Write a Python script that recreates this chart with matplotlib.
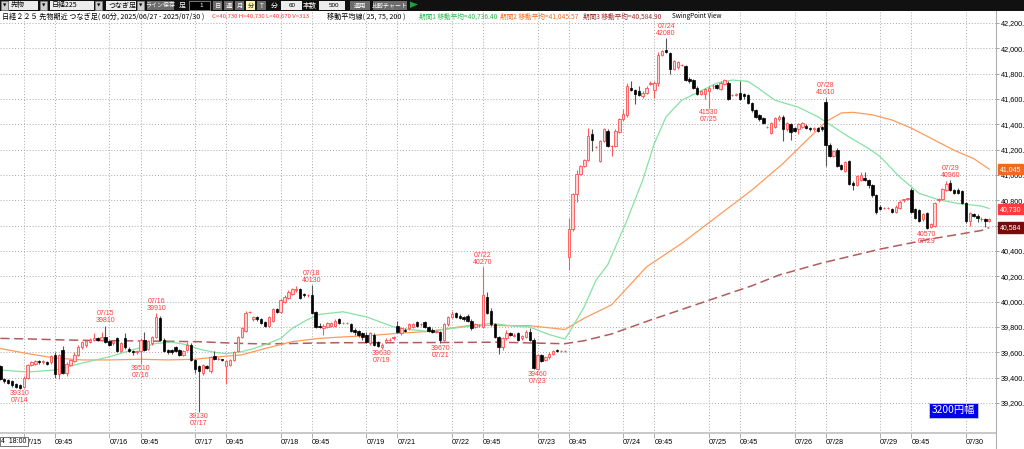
import matplotlib
matplotlib.use("Agg")
import matplotlib.pyplot as plt
from matplotlib.patches import Rectangle, Polygon
import numpy as np

W, H = 1024, 449
JP = ["Noto Sans CJK JP", "DejaVu Sans"]
NUM = "Liberation Sans"

# ---------------- data (60 min bars, bar -6 = 07/14 18:00) ----------------
first_bar = -6
opens = [
    39490, 39390, 39380, 39370, 39350, 39340,
    39330, 39400, 39500, 39510, 39530, 39520, 39520, 39520, 39580, 39430, 39620, 39440, 39500, 39530, 39580, 39640, 39660, 39680, 39700, 39710, 39700, 39720,
    39690, 39670, 39710, 39610, 39710, 39630, 39610, 39600, 39610, 39700, 39630, 39670, 39720, 39870, 39700, 39620, 39620, 39640, 39620, 39580, 39620, 39660,
    39540, 39490, 39440, 39490, 39450, 39570, 39550, 39550, 39490, 39500, 39540, 39610, 39720, 39770, 39920, 39860, 39880, 39860, 39840, 39810, 39850, 39940,
    39920, 40000, 40030, 40060, 40090, 40100, 40060, 40050, 40050, 39920, 39810, 39790, 39800, 39810, 39810, 39860, 39830, 39830, 39820, 39780, 39770, 39750,
    39740, 39670, 39740, 39680, 39640, 39680, 39700, 39710, 39810, 39750, 39780, 39790, 39800, 39840, 39820, 39840, 39800, 39780, 39760, 39760, 39700, 39820,
    39880, 39910, 39890, 39880, 39890, 39850, 39800, 39810, 39800, 40040, 39930, 39820, 39720, 39640, 39710, 39750, 39730, 39750, 39710, 39720, 39760, 39700,
    39470, 39580, 39540, 39560, 39590, 39620, 39610, 39610, 40350, 40570, 40850, 41010, 41070, 41120, 41320, 41220, 41110, 41270, 41350, 41230, 41230, 41340,
    41440, 41470, 41690, 41670, 41660, 41620, 41650, 41720, 41670, 41730, 41950, 41990, 41960, 41840, 41850, 41870, 41860, 41760, 41750, 41690, 41640, 41640,
    41660, 41700, 41710, 41680, 41720, 41730, 41630, 41630, 41650, 41640, 41630, 41570, 41510, 41470, 41450, 41380, 41330, 41380, 41440, 41460, 41360, 41400,
    41370, 41360, 41380, 41390, 41370, 41360, 41370, 41380, 41580, 41240, 41150, 41200, 41080, 41030, 41110, 40940, 40920, 40960, 40980, 40960, 40920, 40840,
    40750, 40740, 40740, 40730, 40710, 40740, 40800, 40810, 40880, 40730, 40720, 40650, 40700, 40590, 40600, 40800, 40810, 40880, 40940, 40880, 40880, 40870,
    40780, 40640, 40690, 40680, 40650, 40650, 40640,
]
highs = [
    39500, 39400, 39390, 39380, 39360, 39350,
    39410, 39510, 39530, 39540, 39540, 39540, 39530, 39580, 39600, 39590, 39650, 39520, 39550, 39600, 39660, 39690, 39700, 39710, 39750, 39720, 39760, 39810,
    39700, 39700, 39720, 39680, 39750, 39640, 39620, 39620, 39710, 39760, 39700, 39730, 39910, 39890, 39710, 39630, 39630, 39650, 39630, 39620, 39680, 39670,
    39550, 39500, 39510, 39500, 39570, 39610, 39560, 39550, 39540, 39550, 39610, 39730, 39800, 39930, 39930, 39890, 39890, 39870, 39850, 39890, 39950, 39950,
    40020, 40050, 40090, 40110, 40120, 40110, 40070, 40060, 40130, 39930, 39830, 39820, 39840, 39840, 39860, 39870, 39840, 39840, 39830, 39790, 39780, 39760,
    39760, 39760, 39750, 39690, 39670, 39710, 39710, 39730, 39850, 39800, 39790, 39830, 39830, 39850, 39830, 39850, 39810, 39790, 39780, 39770, 39830, 39890,
    39930, 39920, 39900, 39890, 39900, 39860, 39830, 39820, 40270, 40080, 39950, 39830, 39730, 39720, 39780, 39760, 39750, 39760, 39740, 39780, 39790, 39710,
    39590, 39590, 39570, 39600, 39620, 39630, 39620, 39620, 40660, 40860, 41040, 41080, 41130, 41370, 41360, 41230, 41280, 41370, 41360, 41240, 41360, 41450,
    41520, 41730, 41740, 41680, 41700, 41660, 41700, 41740, 41740, 41970, 41990, 42080, 41970, 41910, 41900, 41880, 41870, 41770, 41760, 41700, 41670, 41690,
    41700, 41720, 41720, 41740, 41760, 41740, 41640, 41650, 41740, 41650, 41640, 41580, 41520, 41480, 41460, 41390, 41420, 41460, 41470, 41470, 41420, 41410,
    41380, 41410, 41420, 41400, 41380, 41380, 41380, 41390, 41610, 41250, 41200, 41210, 41090, 41110, 41120, 40950, 41000, 41020, 41020, 40970, 40930, 40850,
    40760, 40750, 40750, 40740, 40760, 40800, 40810, 40820, 40900, 40740, 40730, 40700, 40710, 40620, 40790, 40820, 40900, 40950, 40960, 40890, 40900, 40880,
    40790, 40710, 40700, 40690, 40670, 40660, 40660,
]
lows = [
    39380, 39360, 39350, 39330, 39320, 39310,
    39320, 39390, 39490, 39500, 39510, 39510, 39500, 39510, 39400, 39390, 39430, 39410, 39490, 39520, 39570, 39630, 39640, 39670, 39690, 39690, 39690, 39670,
    39650, 39660, 39600, 39600, 39630, 39600, 39580, 39590, 39510, 39610, 39620, 39660, 39710, 39690, 39600, 39590, 39590, 39600, 39570, 39570, 39610, 39530,
    39440, 39130, 39420, 39470, 39440, 39540, 39540, 39530, 39350, 39490, 39530, 39600, 39710, 39760, 39910, 39850, 39850, 39820, 39800, 39800, 39840, 39910,
    39910, 39990, 40020, 40050, 40080, 40020, 40040, 40040, 39900, 39790, 39790, 39740, 39790, 39800, 39800, 39820, 39820, 39820, 39760, 39740, 39720, 39700,
    39670, 39660, 39650, 39640, 39630, 39670, 39690, 39700, 39750, 39740, 39760, 39780, 39790, 39800, 39810, 39790, 39760, 39750, 39750, 39670, 39690, 39810,
    39870, 39870, 39860, 39850, 39840, 39780, 39790, 39800, 39790, 39900, 39810, 39710, 39590, 39620, 39700, 39730, 39720, 39690, 39700, 39710, 39690, 39470,
    39460, 39520, 39530, 39550, 39580, 39600, 39600, 39600, 40250, 40560, 40790, 41000, 41060, 41110, 41190, 41210, 41100, 41260, 41220, 41150, 41220, 41330,
    41430, 41460, 41660, 41560, 41620, 41610, 41640, 41710, 41610, 41700, 41940, 41960, 41800, 41830, 41840, 41860, 41740, 41730, 41680, 41630, 41630, 41600,
    41530, 41680, 41680, 41670, 41710, 41590, 41620, 41620, 41590, 41600, 41560, 41500, 41450, 41430, 41400, 41370, 41320, 41370, 41430, 41270, 41350, 41280,
    41340, 41320, 41370, 41360, 41350, 41350, 41340, 41350, 41070, 41140, 41140, 41060, 41040, 41020, 40920, 40880, 40910, 40950, 40950, 40900, 40830, 40690,
    40720, 40730, 40730, 40700, 40700, 40730, 40790, 40800, 40700, 40650, 40630, 40640, 40570, 40580, 40590, 40790, 40800, 40870, 40870, 40850, 40850, 40770,
    40620, 40600, 40670, 40630, 40640, 40590, 40630,
]
closes = [
    39390, 39370, 39360, 39340, 39330, 39320,
    39400, 39500, 39520, 39530, 39520, 39530, 39510, 39570, 39430, 39580, 39440, 39510, 39540, 39580, 39640, 39680, 39690, 39700, 39710, 39700, 39720, 39680,
    39660, 39690, 39610, 39670, 39640, 39610, 39600, 39610, 39700, 39620, 39690, 39720, 39880, 39700, 39610, 39600, 39600, 39610, 39580, 39610, 39660, 39540,
    39470, 39450, 39500, 39480, 39560, 39550, 39550, 39540, 39530, 39540, 39600, 39720, 39790, 39910, 39920, 39880, 39860, 39830, 39810, 39880, 39940, 39920,
    40010, 40040, 40080, 40100, 40100, 40030, 40050, 40050, 39910, 39800, 39800, 39810, 39830, 39830, 39850, 39830, 39830, 39830, 39770, 39760, 39740, 39720,
    39680, 39750, 39660, 39650, 39660, 39700, 39700, 39720, 39760, 39790, 39770, 39820, 39820, 39810, 39820, 39800, 39770, 39760, 39770, 39700, 39820, 39880,
    39900, 39880, 39870, 39860, 39850, 39790, 39820, 39810, 40050, 39910, 39820, 39720, 39640, 39710, 39750, 39740, 39740, 39700, 39730, 39760, 39700, 39480,
    39580, 39530, 39560, 39590, 39610, 39610, 39610, 39610, 40570, 40850, 41010, 41070, 41120, 41310, 41280, 41220, 41270, 41360, 41230, 41230, 41350, 41440,
    41480, 41700, 41670, 41640, 41630, 41650, 41690, 41730, 41730, 41950, 41980, 41970, 41840, 41900, 41890, 41870, 41750, 41740, 41690, 41640, 41660, 41680,
    41690, 41700, 41690, 41730, 41750, 41600, 41630, 41640, 41600, 41620, 41570, 41510, 41460, 41440, 41410, 41380, 41410, 41450, 41460, 41360, 41410, 41340,
    41350, 41400, 41410, 41370, 41360, 41370, 41350, 41360, 41240, 41150, 41190, 41070, 41050, 41100, 40930, 40920, 40990, 41000, 40960, 40920, 40840, 40710,
    40730, 40740, 40740, 40710, 40750, 40790, 40810, 40820, 40710, 40660, 40640, 40690, 40580, 40610, 40780, 40810, 40890, 40930, 40880, 40860, 40860, 40780,
    40640, 40700, 40680, 40660, 40650, 40640, 40650,
]

# time axis labels (bar index of each tick)
tick_bars = [0, 8, 22, 30, 44, 52, 66, 74, 88, 96, 110, 118, 132, 140,
             154, 162, 176, 184, 198, 206, 220, 228, 242]
tick_labels = ["07/15", "09:45", "07/16", "09:45", "07/17", "09:45", "07/18", "09:45",
               "07/19", "07/21", "07/22", "09:45", "07/23", "09:45", "07/24", "09:45",
               "07/25", "09:45", "07/26", "07/28", "07/29", "09:45", "07/30"]
price_ticks = list(range(39200, 42201, 200))
hidden_price_labels = [40600]  # covered by the MA200 value box

# moving averages
ma25_bars = [-6, 1, 8, 15, 22, 28, 34, 38, 42, 45, 49, 52, 56, 59, 62, 66, 69, 73, 76, 82,
             88, 96, 104, 113, 120, 125, 130, 135, 139, 140, 144, 147, 150, 155, 159, 162,
             165, 169, 174, 178, 182, 186, 188, 193, 199, 204, 208, 212, 217, 220, 225,
             230, 235, 240, 246, 248]
ma25_vals = [39460, 39445, 39460, 39515, 39565, 39620, 39670, 39680, 39660, 39625, 39600,
             39590, 39605, 39630, 39660, 39710, 39790, 39860, 39900, 39920, 39880, 39790,
             39765, 39800, 39830, 39810, 39800, 39740, 39705, 39750, 39960, 40170, 40290,
             40645, 40960, 41250, 41460, 41590, 41665, 41725, 41750, 41740, 41700, 41590,
             41535, 41460, 41380, 41300, 41210, 41145, 40985, 40855, 40805, 40775, 40755,
             40736]
ma75_bars = [-6, 1, 8, 15, 22, 30, 37, 44, 50, 56, 62, 69, 76, 81, 88, 96, 104, 115, 125,
             130, 139, 144, 151, 160, 169, 178, 187, 195, 203, 206, 210, 213, 218, 223, 228,
             234, 239, 244, 248]
ma75_vals = [39630, 39590, 39555, 39540, 39540, 39545, 39540, 39545, 39565, 39580, 39630,
             39685, 39710, 39720, 39730, 39750, 39765, 39815, 39810, 39810, 39780, 39870,
             39975, 40275, 40460, 40670, 40880, 41090, 41330, 41420, 41490, 41495, 41475,
             41435, 41370, 41275, 41195, 41130, 41046]
ma200_bars = [-6, 2, 11, 22, 30, 45, 54, 62, 71, 81, 94, 110, 122, 133, 139, 144, 151,
              161, 174, 187, 194, 205, 220, 233, 246, 248]
ma200_vals = [39710, 39705, 39697, 39692, 39690, 39684, 39672, 39666, 39671, 39676, 39676,
              39678, 39680, 39672, 39668, 39692, 39745, 39855, 39990, 40125, 40210, 40305,
              40415, 40495, 40562, 40585]

# swing points
swing_bars = [-1, 21, 30, 34, 45, 74, 92, 107, 118, 132, 165, 176, 206, 232, 238]
swing_prices = [39310, 39810, 39510, 39910, 39130, 40130, 39630, 39670, 40270, 39460,
                42080, 41530, 41610, 40570, 40960]
swing_dates = ["07/14", "07/15", "07/16", "07/16", "07/17", "07/18", "07/19", "07/21",
               "07/22", "07/23", "07/24", "07/25", "07/28", "07/29", "07/29"]
swing_is_high = [False, True, False, True, False, True, False, False, True, False,
                 True, False, True, False, True]

# ---------------- figure ----------------
fig = plt.figure(figsize=(W / 100, H / 100), dpi=100)
fig.patch.set_facecolor("white")

PLOT_L, PLOT_R, PLOT_T, PLOT_B = 0, 996, 11, 433
ax = fig.add_axes([PLOT_L / W, 1 - PLOT_B / H, (PLOT_R - PLOT_L) / W, (PLOT_B - PLOT_T) / H])
ax.set_xlim(-6.09, 249.75)
ax.set_ylim(38963, 42295)

o = np.array(opens); h = np.array(highs); l = np.array(lows); c = np.array(closes)
x = np.arange(first_bar, first_bar + len(o))
up = c >= o
dn = ~up

grid_kw = dict(color="#a8a8a8", linestyle=(0, (1, 2)), linewidth=0.7, zorder=0)
for p in price_ticks:
    ax.axhline(p, **grid_kw)
for b in tick_bars:
    ax.axvline(b, **grid_kw)

# moving averages
ax.plot(ma200_bars, ma200_vals, color="#b35c5c", lw=1.1, dashes=(6, 3), zorder=2)
ax.plot(ma75_bars, ma75_vals, color="#ff9a5c", lw=0.9, zorder=2)
ax.plot(ma25_bars, ma25_vals, color="#86e2a2", lw=0.9, zorder=2)

# candles
ax.vlines(x[up], l[up], h[up], color="#ff5a5a", lw=0.8, zorder=3)
ax.vlines(x[dn], l[dn], h[dn], color="#555555", lw=0.8, zorder=3)
ax.bar(x[up], np.maximum(c[up] - o[up], 1), bottom=o[up], width=0.62,
       color="#ffd4d4", edgecolor="#ff5050", lw=0.6, zorder=4)
ax.bar(x[dn], o[dn] - c[dn], bottom=c[dn], width=0.62,
       color="black", edgecolor="black", lw=0.5, zorder=4)

# swing point labels
for b, p, d, hi in zip(swing_bars, swing_prices, swing_dates, swing_is_high):
    txt = f"{d}\n{p}" if hi else f"{p}\n{d}"
    ax.annotate(txt, xy=(b, p), xytext=(0, 1 if hi else -1), textcoords="offset points",
                ha="center", va="bottom" if hi else "top", fontsize=5.0,
                family=NUM, color="#ff3c3c", linespacing=1.0, zorder=6)

# axes styling
for s in ["top", "left", "right"]:
    ax.spines[s].set_visible(False)
ax.spines["bottom"].set_color("#c8c8c8")
ax.spines["bottom"].set_linewidth(1.4)
ax.yaxis.tick_right()
ax.set_yticks(price_ticks)
ax.set_yticklabels(["" if p in hidden_price_labels else f"{p:,}." for p in price_ticks],
                   family=NUM, fontsize=5.2)
ax.tick_params(axis="y", length=2.5, width=0.6, color="#909090", pad=1)
ax.set_xticks(tick_bars)
ax.set_xticklabels(tick_labels, family=NUM, fontsize=5.2, ha="left")
ax.tick_params(axis="x", length=3.5, width=0.6, color="#a0a0a0", pad=0.8)

# right axis border
fig.add_artist(plt.Line2D([PLOT_R / W, PLOT_R / W], [0, 1 - PLOT_T / H], color="#b0b0b0", lw=0.8))

# last value boxes on the price scale
box_vals = [41046, 40730, 40585]
box_text = ["41,045", "40,730", "40,584"]
box_cols = ["#f06a1e", "#ff3b3b", "#7a0b0b"]
for v, t, col in zip(box_vals, box_text, box_cols):
    ax.annotate(t, xy=(1.0, v), xycoords=("axes fraction", "data"), xytext=(3, 0),
                textcoords="offset points", ha="left", va="center", fontsize=5.0,
                family=NUM, color="white", annotation_clip=False, zorder=8,
                bbox=dict(boxstyle="square,pad=0.25", fc=col, ec=col))


def rect(x0, y0, w, hh, fc, ec="none", lw=0.6, z=5):
    fig.add_artist(Rectangle((x0 / W, 1 - (y0 + hh) / H), w / W, hh / H,
                             transform=fig.transFigure, facecolor=fc,
                             edgecolor=ec, linewidth=lw, zorder=z))


def put(x0, y0, s, size=5.0, color="black", ha="left", family=JP, **kw):
    fig.text(x0 / W, 1 - y0 / H, s, fontsize=size, color=color, ha=ha, va="center",
             family=family, zorder=7, **kw)


# toolbar
rect(0, 0, W, 11, "#111111", z=4)
for bx in [1, 40, 95, 137]:
    rect(bx, 1.5, 7, 8, "#cfcfcf", ec="#888888", lw=0.4)
    put(bx + 3.5, 5.6, "▼", 3.2, ha="center", family=["DejaVu Sans"])
rect(9, 1.5, 29, 8, "#ececec")
put(11, 5.5, "先物", 5)
rect(50, 1.5, 44, 8, "#ececec")
put(52, 5.5, "日経225", 5)
rect(106, 1.5, 30, 8, "#ececec")
put(108, 5.5, "つなぎ足", 5)
rect(147, 1.5, 27, 8, "#6c6c6c")
put(160.5, 5.5, "ライン保存", 4.3, "white", ha="center")
put(179, 5.5, "足", 5, "white")
rect(189, 1.5, 21, 8, "#000000", ec="#a0a0a0", lw=0.5)
put(203, 5.5, "1", 4.5, "white", ha="right", family=NUM)
for bx, s in zip([213, 224, 235, 246, 257], ["日", "週", "月", "分", "T"]):
    sel = s == "分"
    rect(bx, 1.5, 9, 8, "#fdf5b0" if sel else "#6c6c6c")
    put(bx + 4.5, 5.5, s, 4.5, "#333333" if sel else "white", ha="center")
put(271, 5.5, "分", 5, "white")
rect(281, 1.5, 21, 8, "#ececec")
put(296, 5.5, "60", 4.5, ha="right", family=NUM)
put(303, 5.5, "本数", 5, "white")
rect(319, 1.5, 26, 8, "#ececec")
put(339, 5.5, "500", 4.5, ha="right", family=NUM)
rect(350, 1.5, 20, 8, "#6c6c6c")
put(360, 5.5, "適用", 4.5, "white", ha="center")
rect(373, 1.5, 34, 8, "#6c6c6c")
put(390, 5.5, "比較チャート", 4.3, "white", ha="center")
fig.add_artist(Polygon([[410 / W, 1 - 1.5 / H], [418 / W, 1 - 4.5 / H], [410 / W, 1 - 8 / H]],
                       closed=True, transform=fig.transFigure, fc="#1e9e3c", ec="none", zorder=6))
fig.add_artist(plt.Line2D([410 / W, 410 / W], [1 - 1 / H, 1 - 10 / H], color="#1e9e3c", lw=0.8))

# header line
put(2, 16.5, "日経２２５ 先物期近 つなぎ足( 60分, 2025/06/27 - 2025/07/30 )", 5.1)
put(212, 16.5, "C=40,730 H=40,730 L=40,670 V=313", 4.35, "#ff3030")
put(327, 16.5, "移動平均線( 25, 75, 200 )", 5.1)
put(419, 16.5, "期間1 移動平均=40,736.40", 4.8, "#30b850")
put(500, 16.5, "期間2 移動平均=41,045.57", 4.8, "#f07020")
put(583, 16.5, "期間3 移動平均=40,584.90", 4.8, "#a02828")
put(672, 16.5, "SwingPoint View", 4.6)

# range badge and cursor time box
put(953.5, 410.5, "3200円幅", 7.4, "white", ha="center",
    bbox=dict(boxstyle="square,pad=0.25", fc="#0000ee", ec="#c8c8ff", lw=0.6))
put(1, 441.5, "4  18:00", 5.0, family=NUM,
    bbox=dict(boxstyle="square,pad=0.2", fc="white", ec="#404040", lw=0.5))

fig.savefig("out.png", dpi=100, facecolor="white")
